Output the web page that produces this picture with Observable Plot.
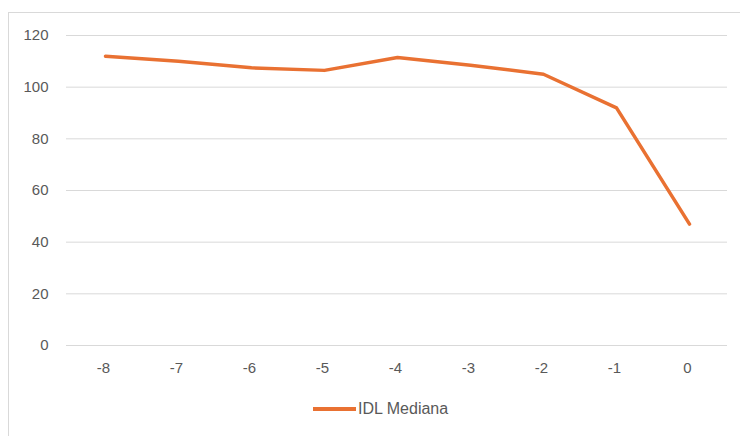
<!DOCTYPE html>
<html>
<head>
<meta charset="utf-8">
<script src="https://cdn.jsdelivr.net/npm/d3@7"></script>
<script src="https://cdn.jsdelivr.net/npm/@observablehq/plot@0.6"></script>
<style>
  html, body { margin: 0; padding: 0; background: #fff; }
  #wrap { position: relative; width: 740px; height: 436px; overflow: hidden; font-family: "Liberation Sans", Arial, sans-serif; }
  #frame { position: absolute; left: 8px; top: 12px; width: 760px; height: 460px; border: 1px solid #d9d9d9; box-sizing: border-box; }
  #chart { position: absolute; left: 0; top: 0; }
  #legend { position: absolute; left: 313px; top: 400px; display: flex; align-items: center; font-size: 16px; color: #595959; }
  #legend .sw { display: inline-block; width: 43px; height: 4px; background: #E97132; margin-right: 2px; }
</style>
</head>
<body>
<div id="wrap">
  <div id="frame"></div>
  <div id="chart"></div>
  <div id="legend"><span class="sw"></span><span id="legend-label"></span></div>
</div>
<script>
const categories = ["-8", "-7", "-6", "-5", "-4", "-3", "-2", "-1", "0"];
const idlMediana = [112, 110, 107.5, 106.5, 111.5, 108.5, 105, 92, 47];
const yTicks = [0, 20, 40, 60, 80, 100, 120];
const seriesName = "IDL Mediana";

const data = categories.map((c, i) => ({ x: c, y: idlMediana[i] }));

const chart = Plot.plot({
  width: 740,
  height: 385,
  marginLeft: 66,
  marginRight: 13,
  marginTop: 35,
  marginBottom: 40,
  style: { fontFamily: "'Liberation Sans', Arial, sans-serif", fontSize: "15px", color: "#595959", background: "transparent" },
  x: { type: "point", domain: categories, padding: 0.5, label: null },
  y: { domain: [0, 120], label: null },
  marks: [
    Plot.gridY(yTicks, { stroke: "#d9d9d9", strokeOpacity: 1, strokeWidth: 1 }),
    Plot.axisY(yTicks, { tickSize: 0, tickPadding: 18, label: null, fill: "#595959" }),
    Plot.axisX({ tickSize: 0, tickPadding: 17, label: null, fill: "#595959", dx: -2 }),
    Plot.line(data, { x: "x", y: "y", stroke: "#E97132", strokeWidth: 3.5, strokeLinejoin: "round", strokeLinecap: "round" })
  ]
});
document.getElementById("chart").appendChild(chart);
document.getElementById("legend-label").textContent = seriesName;
</script>
</body>
</html>
